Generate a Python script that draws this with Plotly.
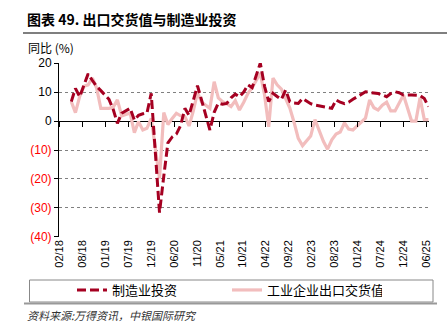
import pandas as pd
import plotly.graph_objects as go

# ---------------- data ----------------
months = (
    ["2018-05", "2018-06", "2018-07", "2018-08", "2018-09", "2018-10", "2018-11", "2018-12"]
    + [f"2019-{m:02d}" for m in range(2, 13)]
    + [f"2020-{m:02d}" for m in range(2, 13)]
    + [f"2021-{m:02d}" for m in range(2, 13)]
    + [f"2022-{m:02d}" for m in range(2, 13)]
    + [f"2023-{m:02d}" for m in range(2, 13)]
    + [f"2024-{m:02d}" for m in range(2, 13)]
    + [f"2025-{m:02d}" for m in range(2, 7)]
)

mfg_invest = [
    6.7, 11.3, 8.4, 12.5, 16.3, 14.0, 12.0, 10.5,
    7.5, 4.0, -0.8, 2.7, 3.5, 4.4, 0.3, 2.0, 2.5, 2.7, 9.6,
    -31.6, -19.0, -7.5, -5.5, -4.5, -1.5, 4.4, 2.0, 7.0, 12.2, 7.0,
    -3.1, 3.0, 6.2, 5.8, 6.1, 8.0, 9.3, 8.4, 10.0, 12.5, 11.5,
    20.0, 12.0, 6.7, 9.6, 8.5, 7.5, 10.7, 6.7, 6.2, 6.1, 7.8,
    6.0, 5.5, 5.2, 5.0, 4.7, 4.4, 7.3, 6.5, 6.0, 6.5, 7.5,
    9.3, 10.1, 9.9, 9.7, 9.5, 9.0, 8.4, 9.5, 10.1, 9.8, 9.0,
    9.0, 9.0, 8.8, 7.8, 5.0,
]

export_delivery = [
    6.7, 2.9, 8.5, 12.0, 12.5, 14.8, 11.5, 4.4,
    4.4, 4.8, 7.3, 1.8, 2.3, 2.7, -4.0, -0.2, -3.1, -2.5, 0.9,
    -19.8, 2.9, -1.2, 0.9, 2.7, 1.8, 1.5, -1.7, 3.5, 9.8, 6.5,
    4.4, 13.6, 8.0, 6.7, 6.0, 5.0, 7.0, 3.8, 6.5, 9.5, 11.5,
    16.5, 9.0, -2.0, 14.8, 12.5, 11.0, 8.0, 4.5, -0.5, -6.0, -8.5,
    -5.2, 0.5, -3.0, -7.0, -9.7, -6.5, -4.5, -3.8, -0.6, -2.8, -3.1,
    -0.5, 1.0, 7.3, 4.6, 3.8, 5.5, 6.5, 3.5, 3.5, 6.0, 9.0,
    0.0, 0.0, 8.0, 0.5, 0.5,
]

x_tick_labels = ["02/18", "08/18", "01/19", "07/19", "12/19", "06/20", "11/20", "05/21",
                 "10/21", "04/22", "09/22", "02/23", "08/23", "01/24", "07/24", "12/24", "06/25"]
y_tick_vals = [20, 10, 0, -10, -20, -30, -40]

series_names = ["制造业投资", "工业企业出口交货值"]
title_text = "图表 49. 出口交货值与制造业投资"
y_title = "同比 (%)"
source_text = "资料来源:万得资讯，中银国际研究"

# ---------------- layout helpers ----------------
W, H = 447, 333
ML, MR, MT, MB = 59, 18, 63, 96
PW, PH = W - ML - MR, H - MT - MB


def px2x(px):
    return (px - ML) / PW


def py2y(py):
    return (H - MB - py) / PH


dates = pd.to_datetime(months) + pd.offsets.MonthEnd(0)
x_range = [pd.Timestamp("2018-03-03"), pd.Timestamp("2025-07-04")]
tick_dates = [pd.Timestamp("2018-03-07") + pd.Timedelta(days=166 * i) for i in range(len(x_tick_labels))]

y_range = [-40.05, 20.05]


def fmt_tick(v):
    if v < 0:
        return f"<span style='color:#FF0000'>({abs(v)})</span>"
    return str(v)


FONT = "Arial, 'Liberation Sans', 'Noto Sans CJK SC', sans-serif"
CJK = "'Noto Sans CJK SC', Arial, sans-serif"

DARK = "#A50021"
PINK = "#F2BDBD"

fig = go.Figure()
fig.add_trace(go.Scatter(
    x=dates, y=export_delivery, name=series_names[1], mode="lines",
    line=dict(color=PINK, width=3.2), legendrank=2,
    xaxis="x", yaxis="y",
))
fig.add_trace(go.Scatter(
    x=dates, y=mfg_invest, name=series_names[0], mode="lines",
    line=dict(color=DARK, width=3, dash="9px,4px"), legendrank=1,
    xaxis="x2", yaxis="y",
))

zero_pos = (0 - y_range[0]) / (y_range[1] - y_range[0])

fig.update_layout(
    width=W, height=H,
    margin=dict(l=ML, r=MR, t=MT, b=MB, pad=0),
    paper_bgcolor="white", plot_bgcolor="white",
    font=dict(family=FONT, size=12, color="#000000"),
    showlegend=True,
    legend=dict(
        orientation="h", x=px2x(72), y=py2y(290), xanchor="left", yanchor="middle",
        font=dict(family=CJK, size=13, color="#000000"),
        bgcolor="rgba(0,0,0,0)", borderwidth=0, entrywidth=110, entrywidthmode="pixels",
        traceorder="normal",
    ),
    xaxis=dict(
        type="date", range=x_range, showgrid=False, zeroline=False, showline=False,
        tickmode="array", tickvals=tick_dates, ticktext=x_tick_labels,
        tickangle=-90, ticks="", tickfont=dict(size=11, family=FONT),
    ),
    xaxis2=dict(
        type="date", range=x_range, overlaying="x", anchor="free", position=zero_pos,
        showgrid=False, zeroline=False, showline=False,
        tickmode="array", tickvals=tick_dates, showticklabels=False,
        ticks="outside", ticklen=5, tickcolor="#000000", tickwidth=1,
    ),
    yaxis=dict(
        range=y_range, tickmode="array", tickvals=y_tick_vals,
        ticktext=[fmt_tick(v) for v in y_tick_vals],
        showgrid=True, gridcolor="#808080", griddash="dot", gridwidth=1,
        zeroline=True, zerolinecolor="#000000", zerolinewidth=1,
        showline=True, linecolor="#000000", linewidth=1,
        ticks="outside", ticklen=4, tickcolor="#000000",
        tickfont=dict(size=12, family=FONT),
    ),
)

# title, axis title, source
fig.add_annotation(xref="paper", yref="paper", x=px2x(25), y=py2y(19), xanchor="left", yanchor="middle",
                   text=f"<b>{title_text}</b>", showarrow=False,
                   font=dict(family=CJK, size=14, color="#000000"))
fig.add_annotation(xref="paper", yref="paper", x=px2x(26), y=py2y(47.5), xanchor="left", yanchor="middle",
                   text=y_title, showarrow=False, font=dict(family=CJK, size=12, color="#000000"))
fig.add_annotation(xref="paper", yref="paper", x=px2x(25), y=py2y(315), xanchor="left", yanchor="middle",
                   text=f"<i>{source_text}</i>", showarrow=False,
                   font=dict(family=CJK, size=11, color="#333333"))

# title rule
fig.add_shape(type="line", xref="paper", yref="paper", x0=px2x(23), x1=px2x(447), y0=py2y(33), y1=py2y(33),
              line=dict(color="#555555", width=1.5))
# legend box + shadow
fig.add_shape(type="rect", xref="paper", yref="paper", x0=px2x(29.5), x1=px2x(433), y0=py2y(280), y1=py2y(302),
              line=dict(color="#888888", width=1), fillcolor="rgba(0,0,0,0)", layer="below")
fig.add_shape(type="line", xref="paper", yref="paper", x0=px2x(24), x1=px2x(437), y0=py2y(303.5), y1=py2y(303.5),
              line=dict(color="#999999", width=2))

fig.write_html("out.html")
